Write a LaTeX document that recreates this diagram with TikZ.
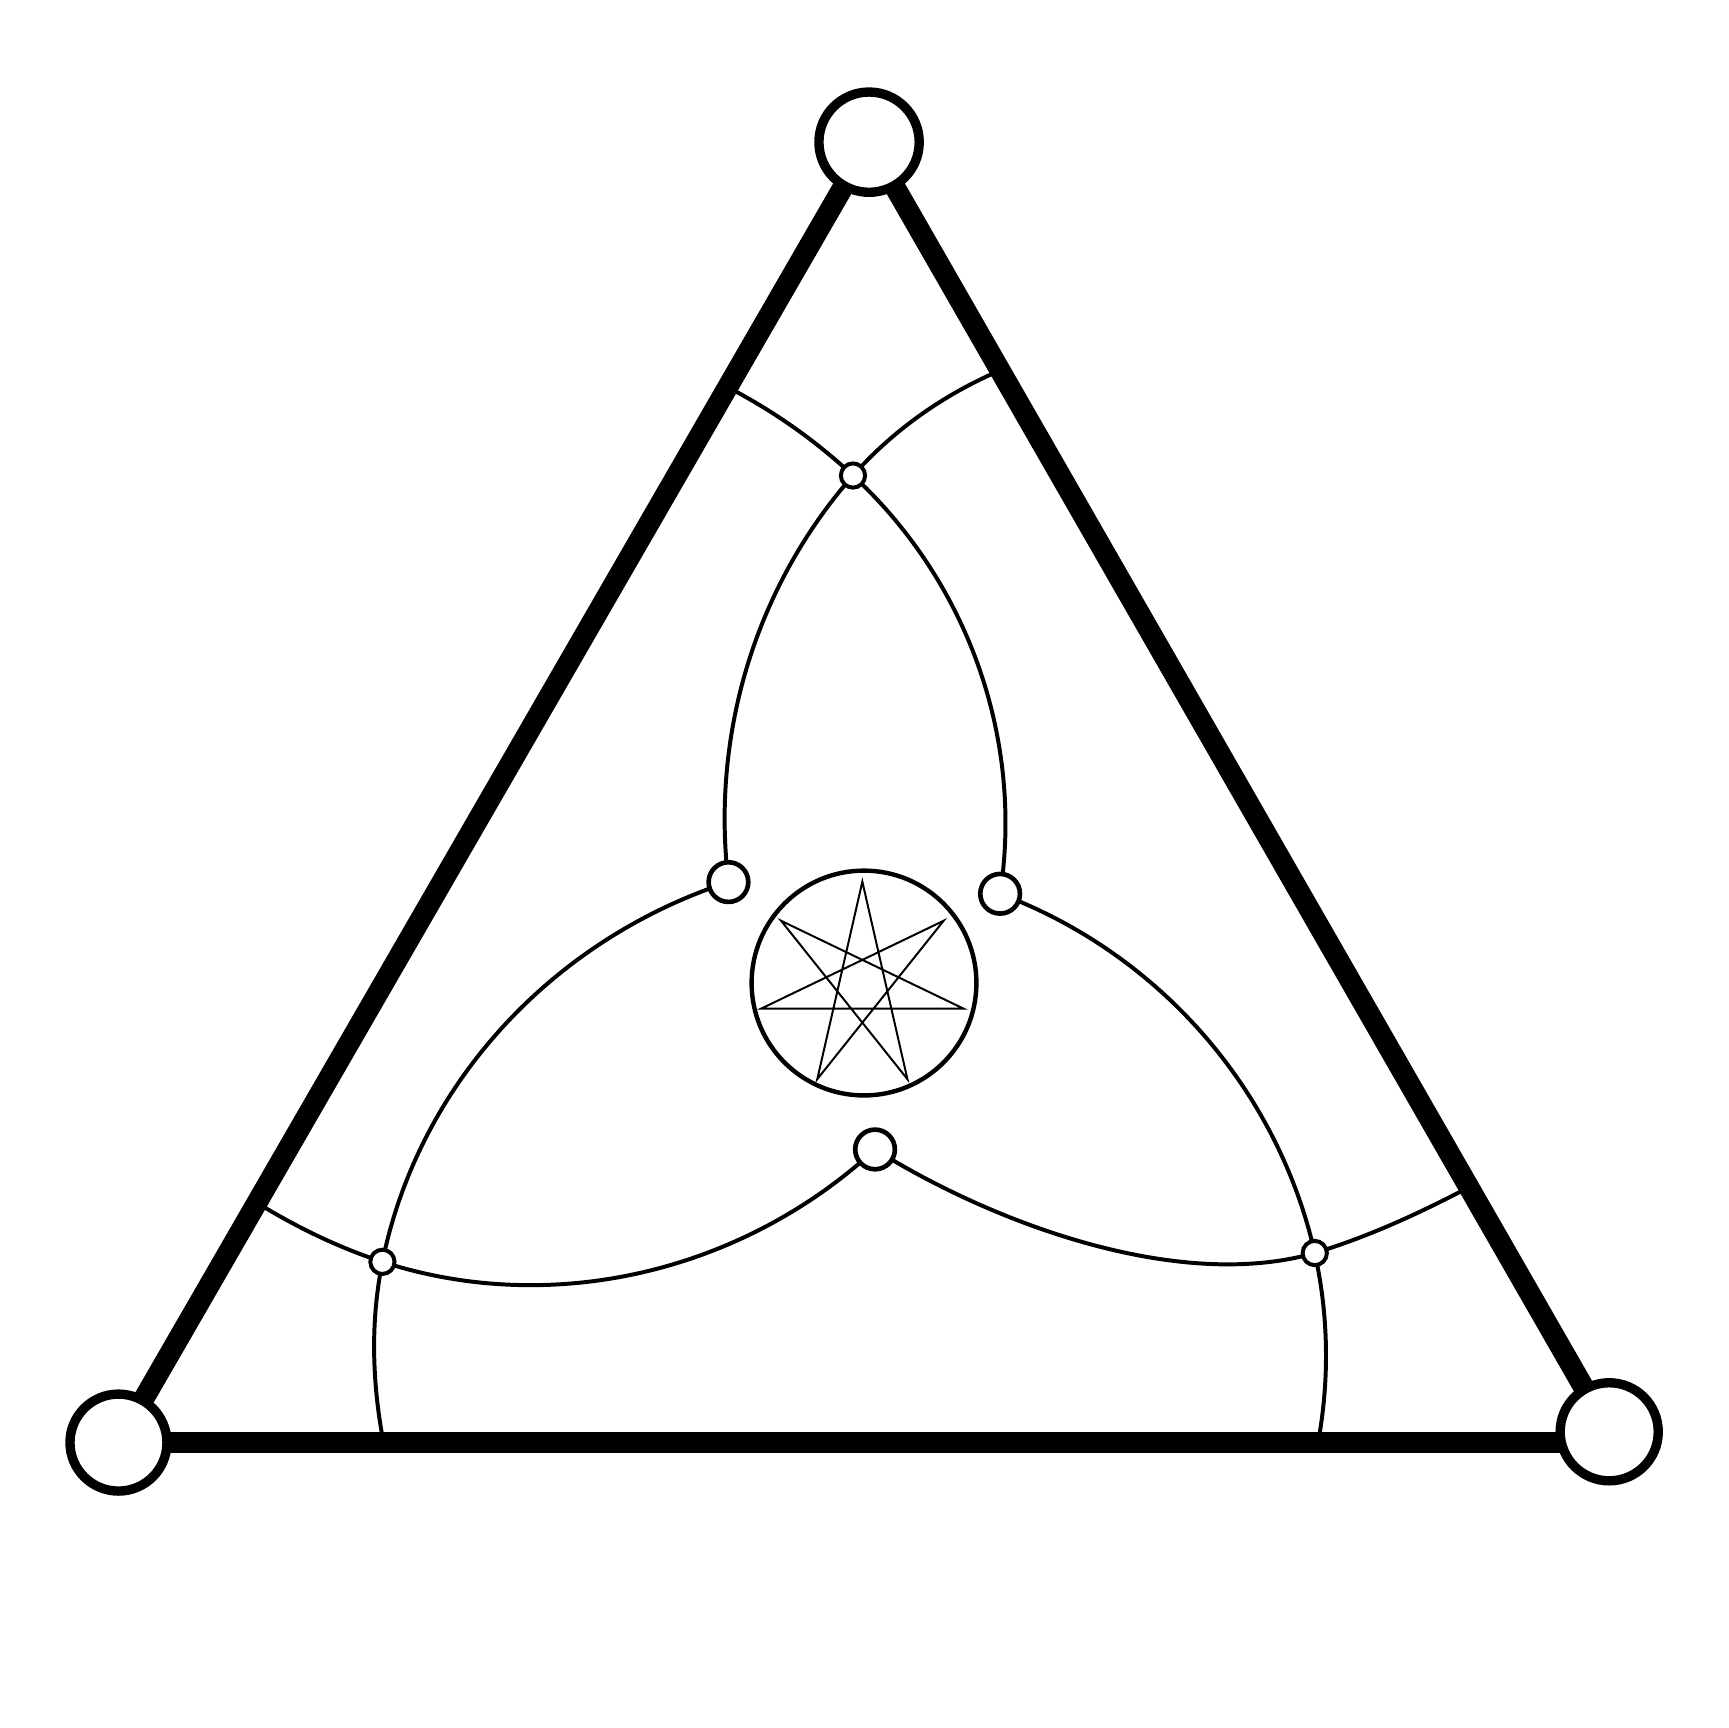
\documentclass[tikz,border=0pt]{standalone}
\usetikzlibrary{backgrounds}
\begin{document}
\begin{tikzpicture}[x=1pt,y=-1pt,
  vertex/.style={circle,draw,fill=white,line width=8.5pt,inner sep=0pt,minimum size=90pt},
  mid/.style={circle,draw,fill=white,line width=4.2pt,inner sep=0pt,minimum size=36pt},
  tiny/.style={circle,draw,fill=white,line width=3.6pt,inner sep=0pt,minimum size=22pt},
  ring/.style={circle,draw,line width=4pt,inner sep=0pt,minimum size=204pt},
  edgeline/.style={line width=19pt},
  arcline/.style={line width=3.6pt},
  starline/.style={line width=1.8pt,line join=miter}]
\useasboundingbox (0,0) rectangle (1568,1568);

% main vertices
\node[vertex,minimum size=91pt] (T) at (788.6,129) {};
\node[vertex,minimum size=88pt] (BL) at (107.5,1309) {};
\node[vertex,minimum size=89pt] (BR) at (1460.2,1299.2) {};
% medium circles
\node[mid] (mL) at (661,800.4) {};
\node[mid] (mR) at (907.5,811) {};
\node[mid] (mB) at (794,1043) {};
% tiny circles
\node[tiny] (tT) at (774,431.5) {};
\node[tiny] (tBL) at (347,1145) {};
\node[tiny] (tBR) at (1193,1137) {};
% central ring and star
\node[ring] (C) at (784,892) {};
\foreach \k in {0,...,6}
  \path (782.5,894.3) ++({90-\k*360/7}:94.3pt) coordinate (s\k);
\draw[starline] (s0)--(s3)--(s6)--(s2)--(s5)--(s1)--(s4)--cycle;

% free ends of arcs on the triangle edges
\coordinate (e1) at (661,351.7);
\coordinate (e2) at (907.4,336.2);
\coordinate (e3) at (348,1309);
\coordinate (e4) at (236.2,1093.3);
\coordinate (e5) at (1196,1309);
\coordinate (e6) at (1332.4,1077.5);

\begin{scope}[on background layer]
  \draw[arcline] (e1) to[out=-27.5,in=137,looseness=0.86] (tT.center)
                      to[out=-42.8,in=81.3,looseness=0.905] (mR.center);
  \draw[arcline] (e2) to[out=-157,in=48.5,looseness=0.86] (tT.center)
                      to[out=-131.3,in=96.9,looseness=0.89] (mL.center);
  \draw[arcline] (e3) to[out=100.8,in=-101.5,looseness=0.86] (tBL.center)
                      to[out=78.5,in=-162,looseness=0.91] (mL.center);
  \draw[arcline] (e4) to[out=-31.2,in=162,looseness=0.855] (tBL.center)
                      to[out=-18,in=-137.3,looseness=0.91] (mB.center);
  \draw[arcline] (e5) to[out=79.6,in=-77.4,looseness=0.86] (tBR.center)
                      to[out=102.8,in=-20.5,looseness=0.905] (mR.center);
  \draw[arcline] (e6) to[out=-152.2,in=17,looseness=0.86] (tBR.center)
                      to[out=196,in=-32,looseness=0.8] (mB.center);
  \draw[edgeline] (T.center) -- (BL.center);
  \draw[edgeline] (T.center) -- (BR.center);
  \draw[edgeline] (BL.center) -- (BL.center -| BR.center);
\end{scope}
\end{tikzpicture}
\end{document}
